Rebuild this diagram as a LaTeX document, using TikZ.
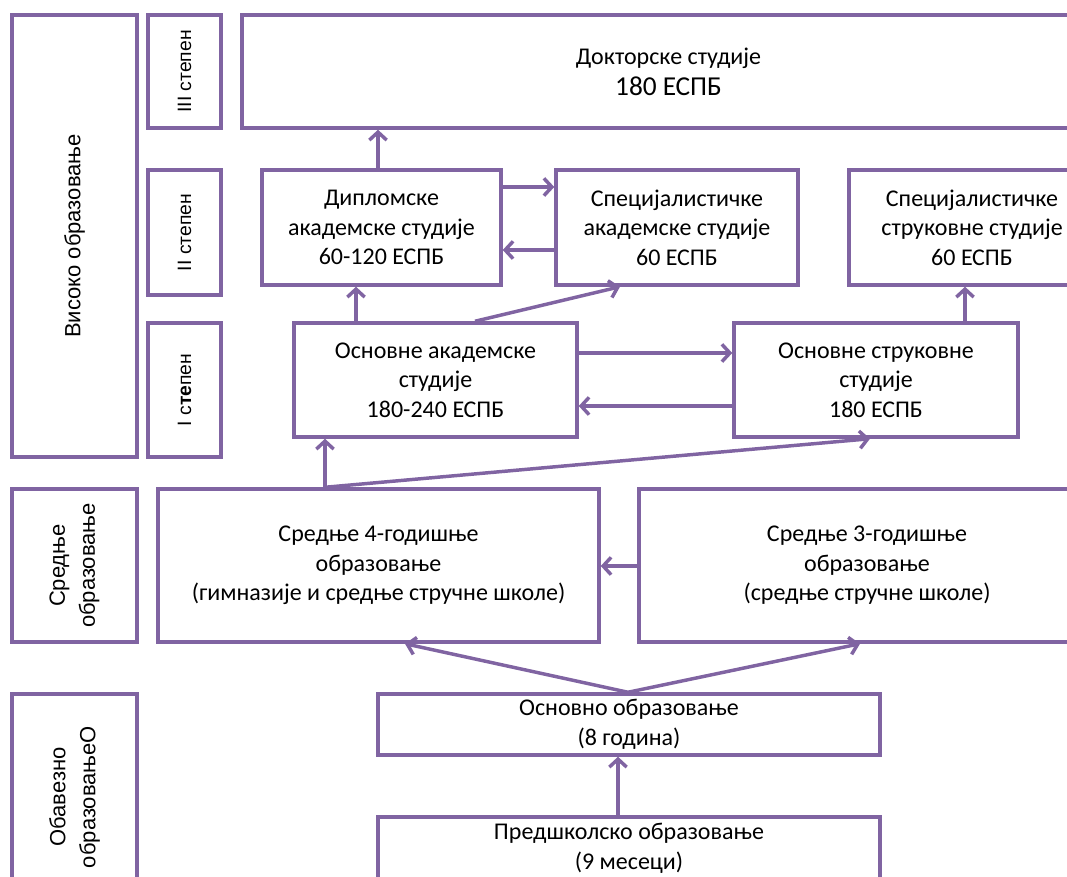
\documentclass[tikz,border=0pt]{standalone}
\usepackage{fontspec}
\setmainfont{Carlito}
\newfontfamily\labfont{Liberation Sans}
\usetikzlibrary{arrows.meta}
\definecolor{pur}{HTML}{8064A2}
\newcommand\pbox[7]{\node[#6, minimum width={(#4-#2)*0.75pt}, minimum height={(#5-#3)*0.75pt}] (#1) at ({(#2+#4)/2},{(#3+#5)/2}) {#7};}
\newcommand\rbox[7]{\node[#6, rotate=90, minimum width={(#5-#3)*0.75pt}, minimum height={(#4-#2)*0.75pt}] (#1) at ({(#2+#4)/2},{(#3+#5)/2}) {#7};}
\begin{document}
\begin{tikzpicture}[x=0.75pt,y=-0.75pt,
  box/.style={draw=pur, line width=2.6pt, inner sep=0pt, align=center, text=black, font=\fontsize{18}{22.2}\selectfont},
  lbl/.style={box, font=\labfont\fontsize{14.5}{22.5}\selectfont},
  biglbl/.style={box, font=\labfont\fontsize{16.5}{22.5}\selectfont},
  arr/.style={draw=pur, line width=2.6pt, -{Straight Barb[length=6pt,width=13pt]}}]
\useasboundingbox (0,0) rectangle (1067,877);
\clip (0,0) rectangle (1067,877);
% left column
\rbox{vis}{12}{15}{137}{457}{biglbl}{Високо образовање}
\rbox{sred}{12}{489}{137}{642}{biglbl}{Средње\\образовање}
\rbox{obav}{12}{694}{137}{900}{biglbl}{Обавезно\\образовањеО}
\rbox{st3}{148}{15}{221}{128}{lbl}{III степен}
\rbox{st2}{148}{170}{221}{295}{lbl}{II степен}
\rbox{st1}{148}{323}{221}{457}{lbl}{I с\textbf{те}пен}
% main boxes
\pbox{dok}{242}{15}{1095}{128}{box}{Докторске студије\\[1pt]{\fontsize{20.5}{24}\selectfont 180 ЕСПБ}}
\pbox{dipl}{262}{170}{501}{285}{box}{Дипломске\\академске студије\\60-120 ЕСПБ}
\pbox{spa}{556}{170}{798}{285}{box}{Специјалистичке\\академске студије\\60 ЕСПБ}
\pbox{sps}{849}{170}{1095}{285}{box}{Специјалистичке\\струковне студије\\60 ЕСПБ}
\pbox{osa}{294}{323}{577}{437}{box}{Основне академске\\студије\\180-240 ЕСПБ}
\pbox{oss}{734}{323}{1018}{437}{box}{Основне струковне\\студије\\180 ЕСПБ}
\pbox{sr4}{158}{489}{599}{642}{box}{Средње 4-годишње\\образовање\\(гимназије и средње стручне школе)}
\pbox{sr3}{639}{489}{1095}{642}{box}{Средње 3-годишње\\образовање\\(средње стручне школе)}
\pbox{osn}{378}{694}{880}{755}{box}{Основно образовање\\(8 година)}
\pbox{pred}{378}{817}{880}{880}{box}{Предшколско образовање\\(9 месеци)}
% arrows
\draw[arr] (378,0 |- dipl.north) -- (378,0 |- dok.south);
\draw[arr] (dipl.east |- 0,187) -- (spa.west |- 0,187);
\draw[arr] (spa.west |- 0,250) -- (dipl.east |- 0,250);
\draw[arr] (356,0 |- osa.north) -- (356,0 |- dipl.south);
\draw[arr] (475,0 |- osa.north) -- (620,0 |- spa.south);
\draw[arr] (osa.east |- 0,353) -- (oss.west |- 0,353);
\draw[arr] (oss.west |- 0,406) -- (osa.east |- 0,406);
\draw[arr] (965,0 |- oss.north) -- (965,0 |- sps.south);
\draw[arr] (325,0 |- sr4.north) -- (325,0 |- osa.south);
\draw[arr] (325,0 |- sr4.north) -- (870,0 |- oss.south);
\draw[arr] (sr3.west |- 0,566) -- (sr4.east |- 0,566);
\draw[arr] (628,0 |- osn.north) -- (405,0 |- sr4.south);
\draw[arr] (628,0 |- osn.north) -- (860,0 |- sr3.south);
\draw[arr] (618,0 |- pred.north) -- (618,0 |- osn.south);
\end{tikzpicture}
\end{document}
